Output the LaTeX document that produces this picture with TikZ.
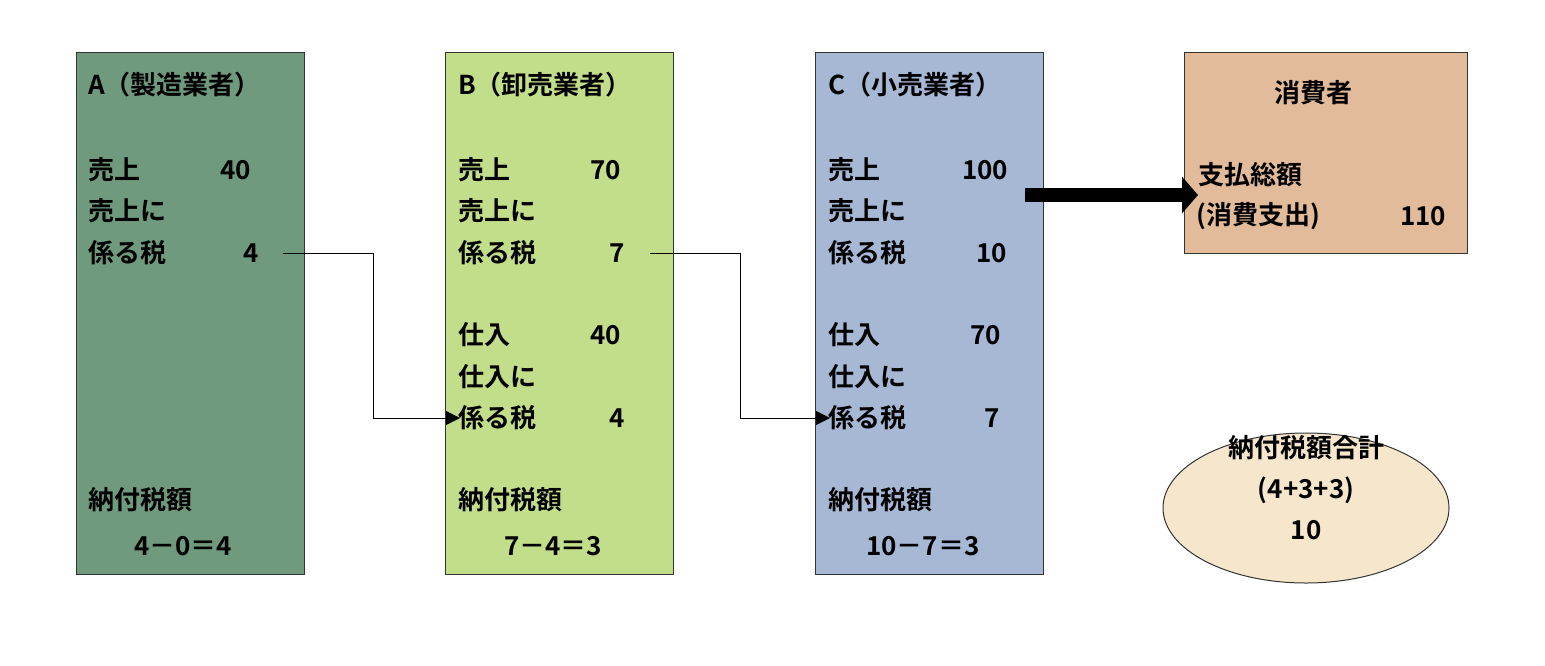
\documentclass[tikz,border=0pt]{standalone}
\usepackage{fontspec}
\setmainfont{Noto Sans CJK JP}[BoldFont={* Bold}]
\usetikzlibrary{arrows.meta,shapes.geometric}
\definecolor{ca}{HTML}{6F9A7E}
\definecolor{cb}{HTML}{C3DE8A}
\definecolor{cc}{HTML}{A6B8D4}
\definecolor{cd}{HTML}{E2BB9A}
\definecolor{ce}{HTML}{F6E6CC}
\tikzset{box/.style={draw=black!80,line width=1pt,anchor=north west,inner sep=0pt},
 t/.style={anchor=west,inner sep=0pt,font=\fontsize{26}{26}\selectfont\bfseries},
 conn/.style={line width=0.8pt,-{Triangle[length=14pt,width=14pt]}}}
\begin{document}
\begin{tikzpicture}[x=1pt,y=-1pt]
\useasboundingbox (0,0) rectangle (1545,665);
\node[box,fill=ca,minimum width=228,minimum height=522] (A) at (76,52) {};
\node[box,fill=cb,minimum width=228,minimum height=522] (B) at (445,52) {};
\node[box,fill=cc,minimum width=228,minimum height=522] (C) at (815,52) {};
\node[box,fill=cd,minimum width=283,minimum height=201] (D) at (1184,52) {};
\node[draw=black!80,line width=1pt,fill=ce,ellipse,minimum width=286,minimum height=150] (E) at (1306,508) {};
% A
\node[t] (a0) at (88,85) {A（製造業者）};
\node[t] (a1) at (88,170) {売上};
\node[t] (a1n) at (220,170) {40};
\node[t] (a2) at (88,211) {売上に};
\node[t] (a3) at (88,253) {係る税};
\node[t] (a3n) at (243,253) {4};
\node[t] (a4) at (88,500) {納付税額};
\node[t] (a5) at (134,546) {4－0＝4};
% B
\node[t] (b0) at (458,85) {B（卸売業者）};
\node[t] (b1) at (458,170) {売上};
\node[t] (b1n) at (590,170) {70};
\node[t] (b2) at (458,211) {売上に};
\node[t] (b3) at (458,253) {係る税};
\node[t] (b3n) at (609,253) {7};
\node[t] (b4) at (458,335) {仕入};
\node[t] (b4n) at (590,335) {40};
\node[t] (b5) at (458,377) {仕入に};
\node[t] (b6) at (458,418) {係る税};
\node[t] (b6n) at (609,418) {4};
\node[t] (b7) at (458,500) {納付税額};
\node[t] (b8) at (504,546) {7－4＝3};
% C
\node[t] (c0) at (828,85) {C（小売業者）};
\node[t] (c1) at (828,170) {売上};
\node[t] (c1n) at (962,170) {100};
\node[t] (c2) at (828,211) {売上に};
\node[t] (c3) at (828,253) {係る税};
\node[t] (c3n) at (976,253) {10};
\node[t] (c4) at (828,335) {仕入};
\node[t] (c4n) at (970,335) {70};
\node[t] (c5) at (828,377) {仕入に};
\node[t] (c6) at (828,418) {係る税};
\node[t] (c6n) at (984,418) {7};
\node[t] (c7) at (828,500) {納付税額};
\node[t] (c8) at (866,546) {10－7＝3};
% D
\node[t] (d0) at (1274,93) {消費者};
\node[t] (d1) at (1198,175) {支払総額};
\node[t] (d2) at (1196,216) {(消費支出)};
\node[t] (d2n) at (1400,216) {110};
% E
\node[t,anchor=center] (e1) at (1306,448) {納付税額合計};
\node[t,anchor=center] (e2) at (1306,490) {(4+3+3)};
\node[t,anchor=center] (e3) at (1306,530) {10};
% connectors
\coordinate (p1) at (283,253);
\coordinate (q1) at (460,418);
\coordinate (p2) at (650,253);
\coordinate (q2) at (830,418);
\draw[conn] (p1) -- (373,253) -- (373,418) -- (q1);
\draw[conn] (p2) -- (740,253) -- (740,418) -- (q2);
\coordinate (r1) at (1025,195);
\coordinate (r2) at (1198,195);
\draw[line width=14pt,-{Triangle[length=16pt,width=36pt]}] (r1) -- (r2);
\end{tikzpicture}
\end{document}
